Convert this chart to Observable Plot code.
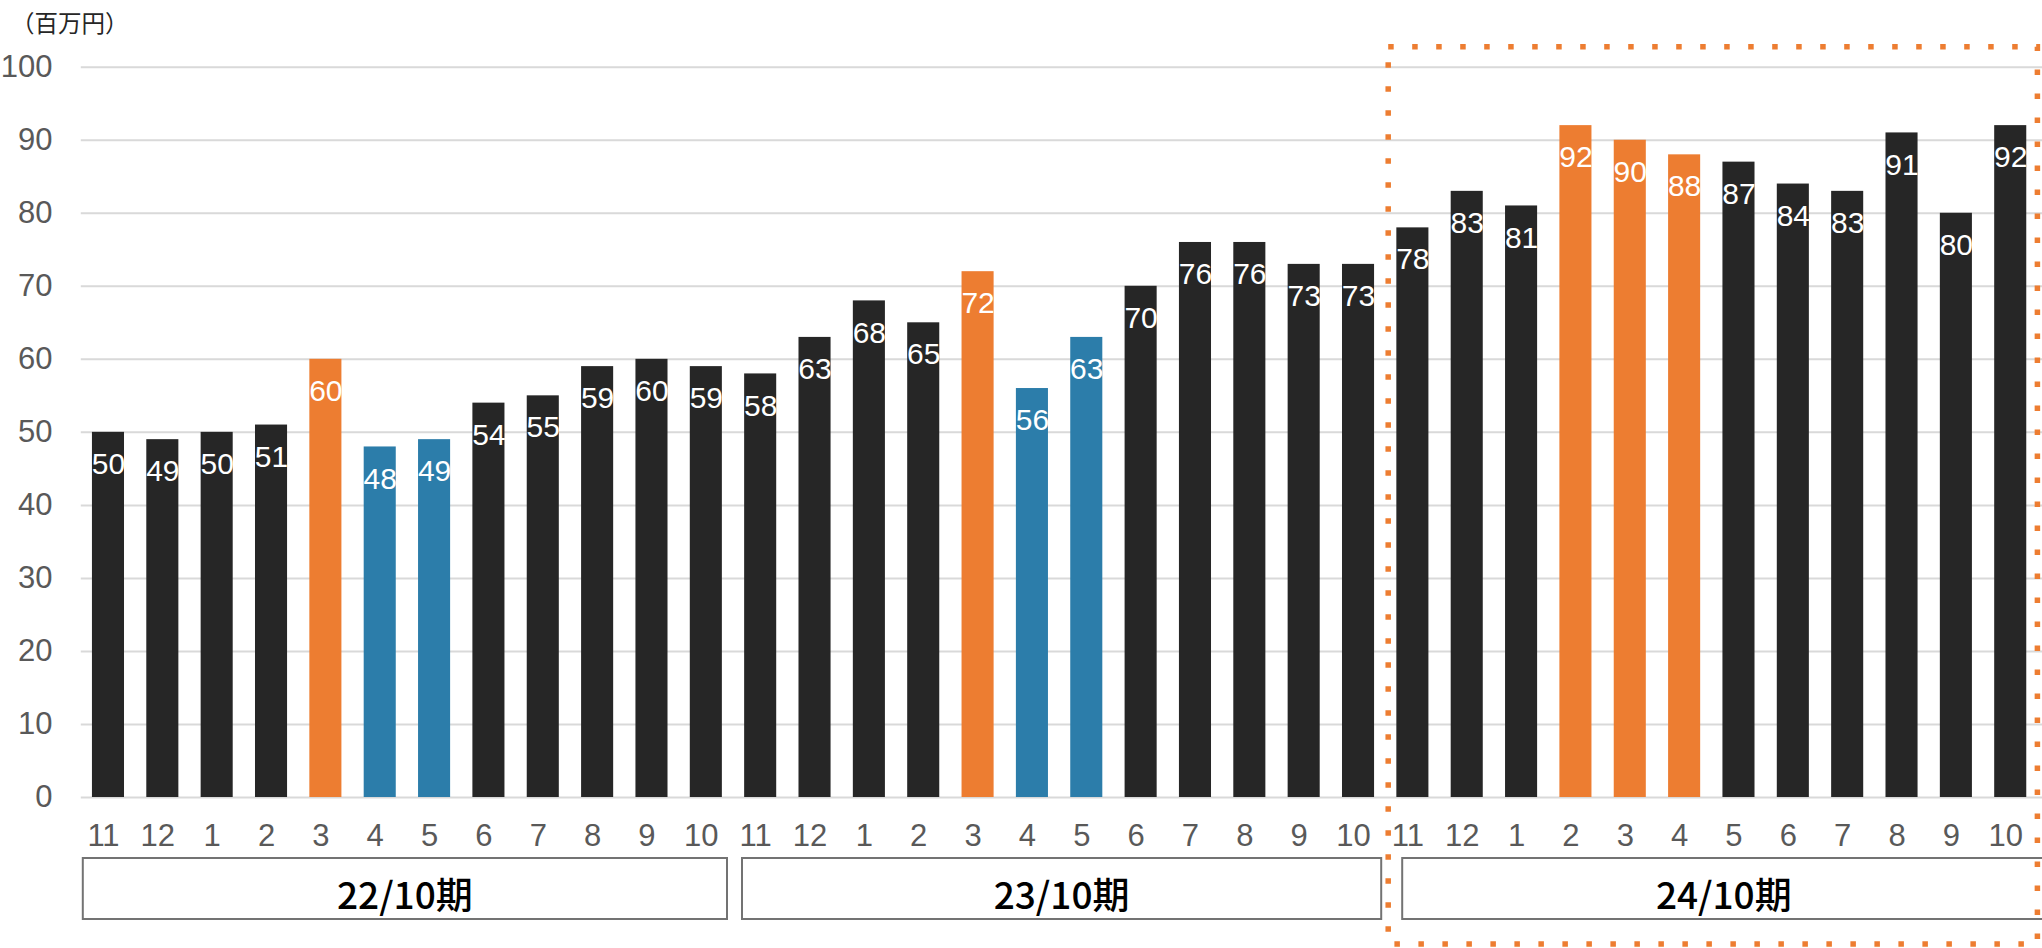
<!DOCTYPE html>
<html><head><meta charset="utf-8">
<script src="https://cdn.jsdelivr.net/npm/d3@7"></script>
<script src="https://cdn.jsdelivr.net/npm/@observablehq/plot@0.6"></script>
<style>html,body{margin:0;padding:0;background:#fff;overflow:hidden}#chart svg{display:block}</style>
</head><body><div id="chart"></div>
<script>
// ---- data ----
const unitLabel = "（百万円）";
const periods = ["22/10期", "23/10期", "24/10期"];
const months = [11, 12, 1, 2, 3, 4, 5, 6, 7, 8, 9, 10];
const sales22 = [50, 49, 50, 51, 60, 48, 49, 54, 55, 59, 60, 59];
const sales23 = [58, 63, 68, 65, 72, 56, 63, 70, 76, 76, 73, 73];
const sales24 = [78, 83, 81, 92, 90, 88, 87, 84, 83, 91, 80, 92];
const kind22 = ["base","base","base","base","peak","low","low","base","base","base","base","base"];
const kind23 = ["base","base","base","base","peak","low","low","base","base","base","base","base"];
const kind24 = ["base","base","base","peak","peak","peak","base","base","base","base","base","base"];
const yTicks = [0, 10, 20, 30, 40, 50, 60, 70, 80, 90, 100];
const highlightPeriod = "24/10期";

const series = [sales22, sales23, sales24];
const kinds = [kind22, kind23, kind24];
const data = periods.flatMap((p, pi) => months.map((m, mi) => ({
  key: p + "|" + mi, period: p, month: m, value: series[pi][mi], kind: kinds[pi][mi]
})));
const keys = data.map(d => d.key);
const monthOf = Object.fromEntries(data.map(d => [d.key, String(d.month)]));

// ---- chart ----
const W = 2042, H = 948;
const chart = Plot.plot({
  width: W, height: H,
  marginTop: 66.7, marginBottom: 151, marginLeft: 80.8, marginRight: 0,
  style: {fontFamily: "'Liberation Sans', Arial, sans-serif", background: "#fff", overflow: "visible"},
  x: {type: "band", domain: keys, range: [80.8, 2037.4], paddingInner: 0.41, paddingOuter: 0.205, round: false},
  y: {domain: [0, 100]},
  color: {domain: ["base", "peak", "low"], range: ["#262626", "#ED7D31", "#2C7DAA"]},
  marks: [
    Plot.gridY(yTicks, {stroke: "#D9D9D9", strokeOpacity: 1, strokeWidth: 2}),
    Plot.axisY(yTicks, {tickSize: 0, tickPadding: 28.8, fontSize: 31, color: "#595959", label: null}),
    Plot.axisX({tickSize: 0, tickPadding: 26, fontSize: 31, dx: -5, color: "#595959", label: null, tickFormat: k => monthOf[k]}),
    Plot.barY(data, {x: "key", y: "value", fill: "kind"}),
    Plot.text(data, {x: "key", y: "value", text: d => String(d.value), dy: 32, fill: "#fff", fontSize: 30})
  ]
});
document.getElementById("chart").appendChild(chart);

// ---- annotations through the plot's scales ----
const sx = chart.scale("x"), sy = chart.scale("y");
const step = sx.step, bw = sx.bandwidth;
const bandStart = k => sx.apply(k) - (step - bw) / 2;
const y0 = sy.apply(0), y100 = sy.apply(100);
const svg = d3.select(chart);

svg.append("text")
  .attr("x", 11).attr("y", 32)
  .attr("text-anchor", "start")
  .attr("font-family", "'Noto Sans CJK JP', sans-serif")
  .attr("font-size", 23.5).attr("fill", "#262626")
  .text(unitLabel);

const boxPad = [[2, 6], [9, 4], [17, -8]];
periods.forEach((p, i) => {
  const pk = data.filter(d => d.period === p).map(d => d.key);
  const x1 = bandStart(pk[0]) + boxPad[i][0];
  const x2 = bandStart(pk[pk.length - 1]) + step - boxPad[i][1];
  const top = y0 + 61, bottom = y0 + 122;
  svg.append("rect").attr("x", x1).attr("y", top).attr("width", x2 - x1).attr("height", bottom - top)
    .attr("fill", "none").attr("stroke", "#737373").attr("stroke-width", 2);
  svg.append("text").attr("x", (x1 + x2) / 2).attr("y", (top + bottom) / 2 + 4)
    .attr("text-anchor", "middle").attr("dominant-baseline", "central")
    .attr("font-family", "'Noto Sans CJK JP', sans-serif").attr("font-weight", 500)
    .attr("font-size", 37).attr("fill", "#000").text(p);
});

{
  const pk = data.filter(d => d.period === highlightPeriod).map(d => d.key);
  const x1 = bandStart(pk[0]) + 3;
  const x2 = bandStart(pk[pk.length - 1]) + step;
  const top = y100 - 20, bottom = H - 4;
  svg.append("rect").attr("x", x1).attr("y", top).attr("width", x2 - x1).attr("height", bottom - top)
    .attr("fill", "none").attr("stroke", "#ED7D31").attr("stroke-width", 5.5)
    .attr("stroke-dasharray", "5.5 18.5");
}
</script></body></html>
